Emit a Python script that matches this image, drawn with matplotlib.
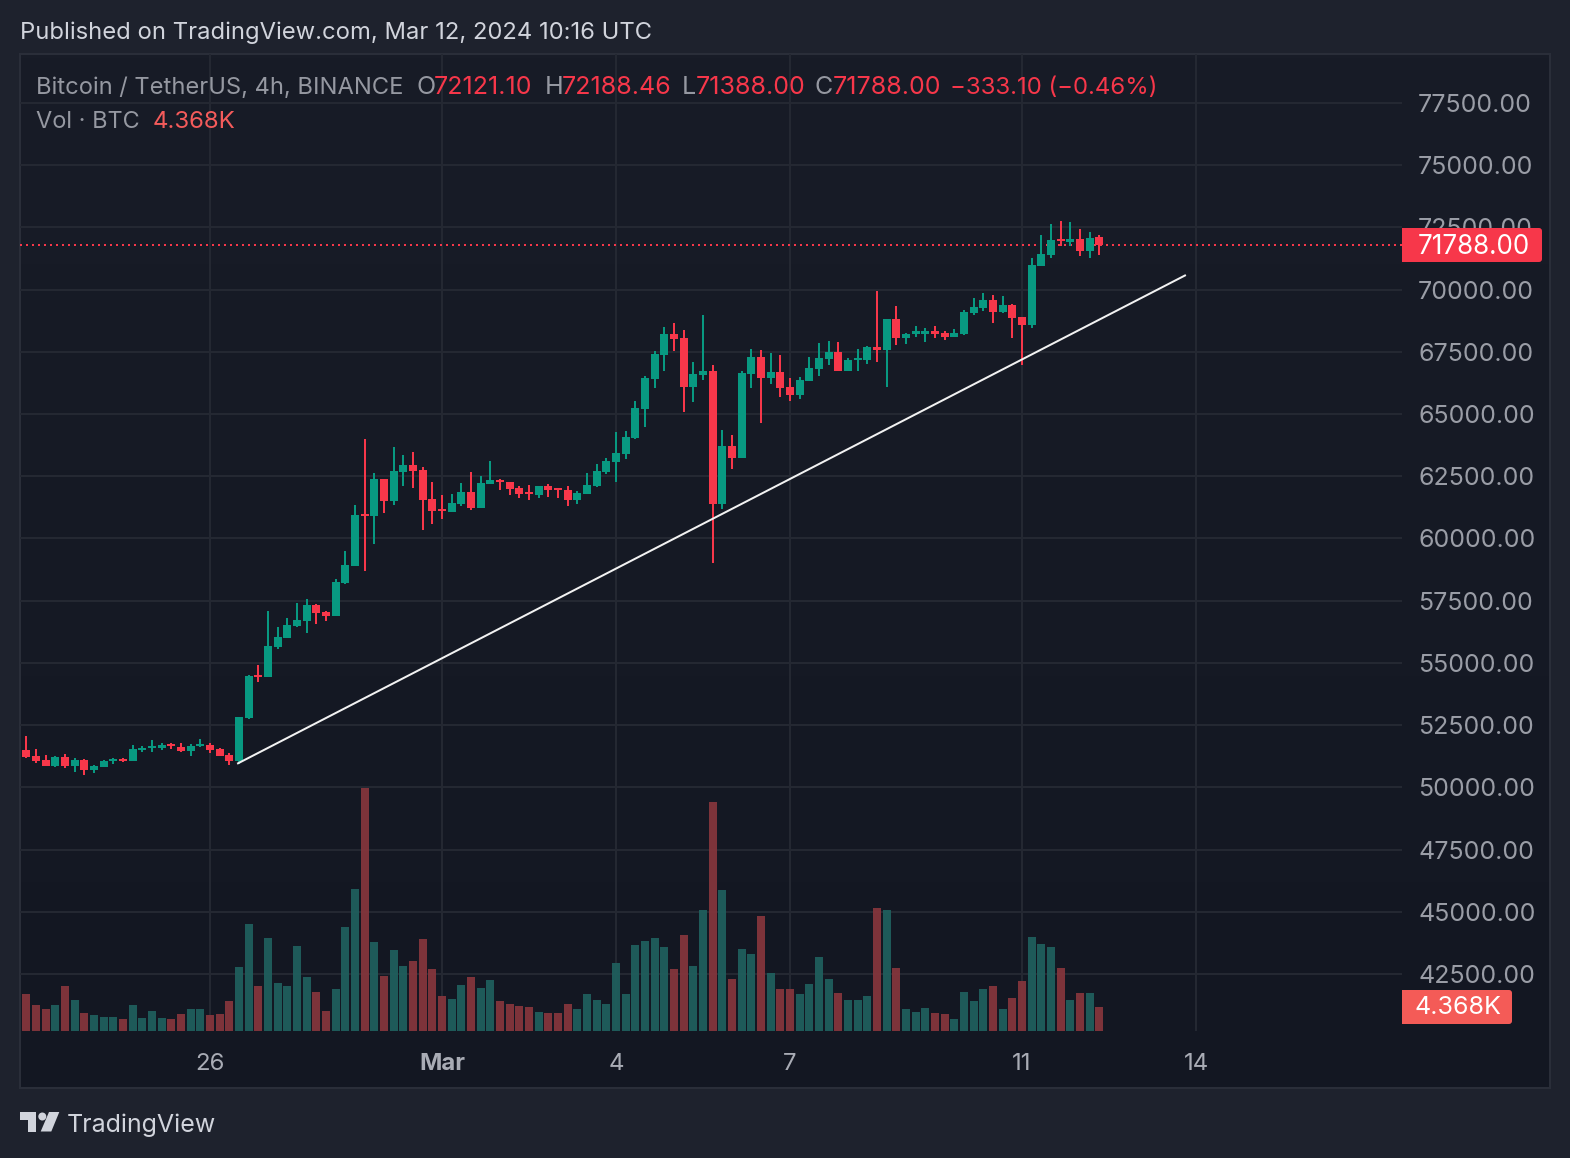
import matplotlib
matplotlib.use("Agg")
import matplotlib.pyplot as plt
import numpy as np
from matplotlib.patches import Rectangle, FancyBboxPatch, Polygon, Circle

plt.rcParams['font.family'] = ['Inter', 'DejaVu Sans']

# 4h candles, first one Feb 22 20:00 or so
opens = [51490, 51245, 51085, 50845, 51205, 50845, 51085, 50685, 50805, 51045, 51125, 51045, 51485, 51565, 51565, 51725,
         51605, 51445, 51645, 51685, 51525, 51285, 51045, 52770, 54500, 54420, 55625, 55985, 56465, 56670, 57310, 57030,
         56870, 58195, 58880, 60965, 60885, 62410, 61490, 62655, 62935, 62735, 61570, 61165, 61045, 61370, 61850, 61205,
         62170, 62370, 62290, 62010, 61850, 61730, 62090, 62010, 61930, 61530, 61770, 62090, 62655, 63055, 63415, 64020,
         65185, 66390, 67355, 68235, 68075, 66070, 66590, 66750, 61370, 63700, 63215, 66630, 67275, 66430, 66710, 66070,
         65785, 66310, 66830, 67195, 67475, 66750, 67155, 67155, 67715, 67555, 68840, 68075, 68235, 68235, 68320, 68275,
         68115, 68235, 69080, 69280, 69565, 69120, 69400, 68920, 68560, 70970, 71410, 72055, 71935, 72055, 71570, 72121.10]
highs = [52050, 51525, 51285, 51245, 51325, 51165, 51125, 50885, 51085, 51165, 51165, 51685, 51645, 51890, 51770, 51770,
         51770, 51725, 51930, 51770, 51565, 51365, 52810, 54500, 54900, 57070, 56430, 56790, 57390, 57550, 57350, 57070,
         58355, 59480, 61330, 63980, 62615, 62410, 63660, 63335, 63495, 62855, 62250, 61730, 61770, 62210, 62655, 62495,
         63095, 62410, 62290, 62090, 62130, 62090, 62170, 62010, 62090, 61890, 62615, 62975, 63215, 64260, 64300, 65545,
         66550, 67515, 68480, 68680, 68360, 67110, 69000, 66990, 64340, 64140, 66750, 67635, 67555, 67435, 67355, 66430,
         66470, 67275, 67875, 67955, 67915, 67235, 67635, 67755, 69965, 68840, 69360, 68275, 68520, 68440, 68520, 68320,
         68400, 69200, 69645, 69885, 69805, 69765, 69440, 68920, 71290, 72215, 72655, 72775, 72735, 72455, 72335, 72188.46]
lows = [51165, 50965, 50845, 50805, 50765, 50605, 50480, 50560, 50805, 50925, 51005, 51045, 51405, 51405, 51485, 51525,
        51405, 51245, 51605, 51365, 51245, 50885, 50925, 52730, 54220, 54420, 55545, 55985, 56430, 56185, 56550, 56670,
        56870, 58155, 58880, 58675, 59760, 61005, 61330, 62090, 62010, 60325, 60565, 60765, 61045, 61290, 61125, 61205,
        62170, 61930, 61730, 61610, 61530, 61610, 61650, 61610, 61290, 61370, 61770, 62050, 62575, 62290, 63175, 63980,
        64500, 66030, 66750, 67515, 65065, 65505, 66350, 59000, 61165, 62775, 63215, 66030, 64660, 66190, 65705, 65545,
        65625, 66310, 66510, 66990, 66750, 66750, 66750, 67030, 67110, 66070, 67795, 67835, 68115, 67915, 68075, 67995,
        68115, 68195, 69000, 69160, 68640, 69080, 68075, 66990, 68440, 70970, 71290, 71770, 71770, 71370, 71290, 71388.00]
closes = [51205, 51045, 50845, 51205, 50845, 51085, 50685, 50845, 51045, 51125, 51045, 51525, 51565, 51645, 51685, 51645,
          51445, 51645, 51725, 51485, 51245, 51045, 52810, 54460, 54420, 55665, 56025, 56510, 56710, 57310, 56990, 56870,
          58235, 58920, 60925, 60885, 62410, 61490, 62695, 62935, 62695, 61530, 61085, 61085, 61410, 61850, 61205, 62210,
          62370, 62250, 61970, 61770, 61770, 62090, 61930, 61930, 61530, 61810, 62130, 62695, 63095, 63455, 64060, 65225,
          66430, 67395, 68235, 68035, 66070, 66630, 66750, 61370, 63700, 63215, 66670, 67275, 66430, 66710, 66030, 65785,
          66350, 66870, 67235, 67475, 66750, 67155, 67235, 67715, 67555, 68840, 68075, 68235, 68320, 68320, 68235, 68115,
          68275, 69120, 69320, 69565, 69120, 69400, 68880, 68560, 71010, 71450, 72015, 71975, 72055, 71570, 72095, 71788.00]
volumes_k = [6.73, 4.73, 4.00, 4.73, 8.19, 5.64, 3.28, 2.91, 2.55, 2.55, 2.18, 4.73, 2.37, 3.64, 2.37, 2.18,
             3.09, 4.00, 4.00, 2.91, 3.09, 5.46, 11.65, 19.47, 8.19, 16.93, 8.74, 8.19, 15.47, 9.83, 7.10, 3.64,
             7.64, 18.93, 25.85, 44.23, 16.20, 10.01, 14.74, 11.83, 12.74, 16.74, 11.28, 6.37, 5.82, 8.37, 9.83, 7.83,
             9.28, 5.46, 4.91, 4.55, 4.37, 3.46, 3.28, 3.28, 4.91, 4.00, 6.73, 5.64, 4.91, 12.38, 6.73, 15.65,
             16.38, 16.93, 15.29, 11.28, 17.47, 11.83, 22.02, 41.68, 25.66, 9.46, 14.92, 14.01, 20.93, 10.56, 7.64, 7.64,
             6.73, 8.55, 13.47, 9.46, 6.92, 5.64, 5.64, 6.37, 22.39, 22.02, 11.47, 4.00, 3.46, 4.19, 3.28, 3.09,
             2.18, 7.10, 5.46, 7.64, 8.19, 4.00, 6.01, 9.10, 17.11, 15.83, 15.29, 11.47, 5.64, 6.92, 6.92, 4.368]

price_ticks = [42500, 45000, 47500, 50000, 52500, 55000, 57500, 60000, 62500, 65000, 67500, 70000, 72500, 75000, 77500]
date_pos = [19, 43, 61, 79, 103, 121]
date_labels = ['26', 'Mar', '4', '7', '11', '14']
trend_x = [21.9, 119.86]
trend_y = [50964, 70570]
last_price = 71788.00

W, H = 1570, 1158
UP = '#089981'
DOWN = '#f7374a'
VOL_UP = '#1f605e'
VOL_DOWN = '#86363c'
GRID = '#242832'
px = 0.72  # 1 px in points at dpi 100

fig = plt.figure(figsize=(W / 100, H / 100), dpi=100, facecolor='#1e222d')

# pixel axes for the background
bg = fig.add_axes([0, 0, 1, 1], zorder=0)
bg.axis('off')
grad = np.linspace(0, 1, 256)[:, None, None] * np.array([[[-5, -5, -5]]]) + np.array([[[24, 28, 39]]])
bg.imshow(grad / 255, extent=[20, 1550, 1088, 54], aspect='auto', zorder=0)
bg.set_xlim(0, W)
bg.set_ylim(H, 0)
bg.add_patch(Rectangle((20, 54), 1530, 1034, fill=False, ec='#2a2e39', lw=2 * px, zorder=1))

# price pane, x=20..1402 y=54..1031
ax = fig.add_axes([20 / W, 1 - 1031 / H, 1382 / W, 977 / H], zorder=2)
ax.set_facecolor('none')
ax.set_xlim(-0.655, 142.31)
ax.set_ylim(40206, 79471)
for s in ax.spines.values():
    s.set_visible(False)
ax.set_xticks(date_pos)
ax.set_xticklabels(date_labels)
ax.tick_params(axis='x', length=0, pad=22 * px, labelsize=24 * px, labelcolor='#a9acb5')
ax.get_xticklabels()[1].set_fontweight('bold')
ax.grid(True, color=GRID, lw=2 * px)
ax.set_axisbelow(True)

x = np.arange(len(opens))
o = np.array(opens)
c = np.array(closes)
cols = [UP if b >= a else DOWN for a, b in zip(opens, closes)]
ax.vlines(x, lows, highs, colors=cols, lw=2 * px, zorder=3)
ax.bar(x, np.abs(c - o), bottom=np.minimum(o, c), width=0.83, color=cols, lw=0, zorder=3)
ax.hlines(last_price, -0.655, 142.31, colors=DOWN, lw=2 * px, linestyles=(0, (1, 2)), zorder=2.5)
ax.plot(trend_x, trend_y, color='#f2f2f2', lw=2 * px, zorder=4)

# volume on its own scale at the bottom
vol = ax.twinx()
vol.set_ylim(0, 177.8)
vol.axis('off')
vol_cols = [VOL_UP if b >= a else VOL_DOWN for a, b in zip(opens, closes)]
vol.bar(x, volumes_k, width=0.8, color=vol_cols, lw=0, alpha=0.93)

# twinx moves the ticks of ax to the left, so set them after it
ax.yaxis.tick_right()
ax.set_yticks(price_ticks)
ax.set_yticklabels(['%.2f' % p for p in price_ticks])
ax.tick_params(axis='y', length=0, pad=16 * px, labelsize=25 * px, labelcolor='#9a9da6')

# overlay for texts and tags
top = fig.add_axes([0, 0, 1, 1], zorder=5)
top.set_facecolor('none')
top.set_xlim(0, W)
top.set_ylim(H, 0)
top.axis('off')


def label(xp, yp, s, color, size=25):
    top.text(xp, yp, s, color=color, fontsize=size * px, ha='left', va='center')


label(20, 33, 'Published on TradingView.com, Mar 12, 2024 10:16 UTC', '#d1d4dc', size=23.8)
GREY = '#9598a1'
label(36, 88, 'Bitcoin / TetherUS, 4h, BINANCE', GREY, size=23.7)
label(416, 88, 'O', GREY)
label(434, 88, '72121.10', DOWN)
label(545, 88, 'H', GREY)
label(562, 88, '72188.46', DOWN)
label(682, 88, 'L', GREY)
label(696, 88, '71388.00', DOWN)
label(815, 88, 'C', GREY)
label(833, 88, '71788.00', DOWN)
label(950, 88, '\u2212333.10 (\u22120.46%)', DOWN, size=24)
label(36, 122, 'Vol \u00b7 BTC', GREY, size=23.5)
label(153, 122, '4.368K', '#f45b5b', size=24)

top.add_patch(FancyBboxPatch((1402, 228), 140, 34, boxstyle='round,pad=0,rounding_size=3', fc=DOWN, ec='none'))
top.add_patch(Rectangle((1402, 228), 8, 34, fc=DOWN, ec='none'))
top.text(1473.5, 246.5, '71788.00', color='white', fontsize=26 * px, ha='center', va='center')
top.add_patch(FancyBboxPatch((1402, 990), 110, 34, boxstyle='round,pad=0,rounding_size=3', fc='#f45b57', ec='none'))
top.add_patch(Rectangle((1402, 990), 8, 34, fc='#f45b57', ec='none'))
top.text(1458, 1008, '4.368K', color='white', fontsize=25 * px, ha='center', va='center')

# TradingView logo
LOGO = '#d1d4dc'
top.add_patch(Polygon([(20, 1112), (36, 1112), (36, 1131.5), (28, 1131.5), (28, 1120), (20, 1120)], fc=LOGO, ec='none'))
top.add_patch(Circle((42.3, 1116.5), 4, fc=LOGO, ec='none'))
top.add_patch(Polygon([(49, 1112), (59.3, 1112), (51.3, 1131.5), (40.7, 1131.5)], fc=LOGO, ec='none'))
label(67, 1125, 'TradingView', '#d1d4dc', size=25)

fig.savefig('out.png', dpi=100, facecolor=fig.get_facecolor())
